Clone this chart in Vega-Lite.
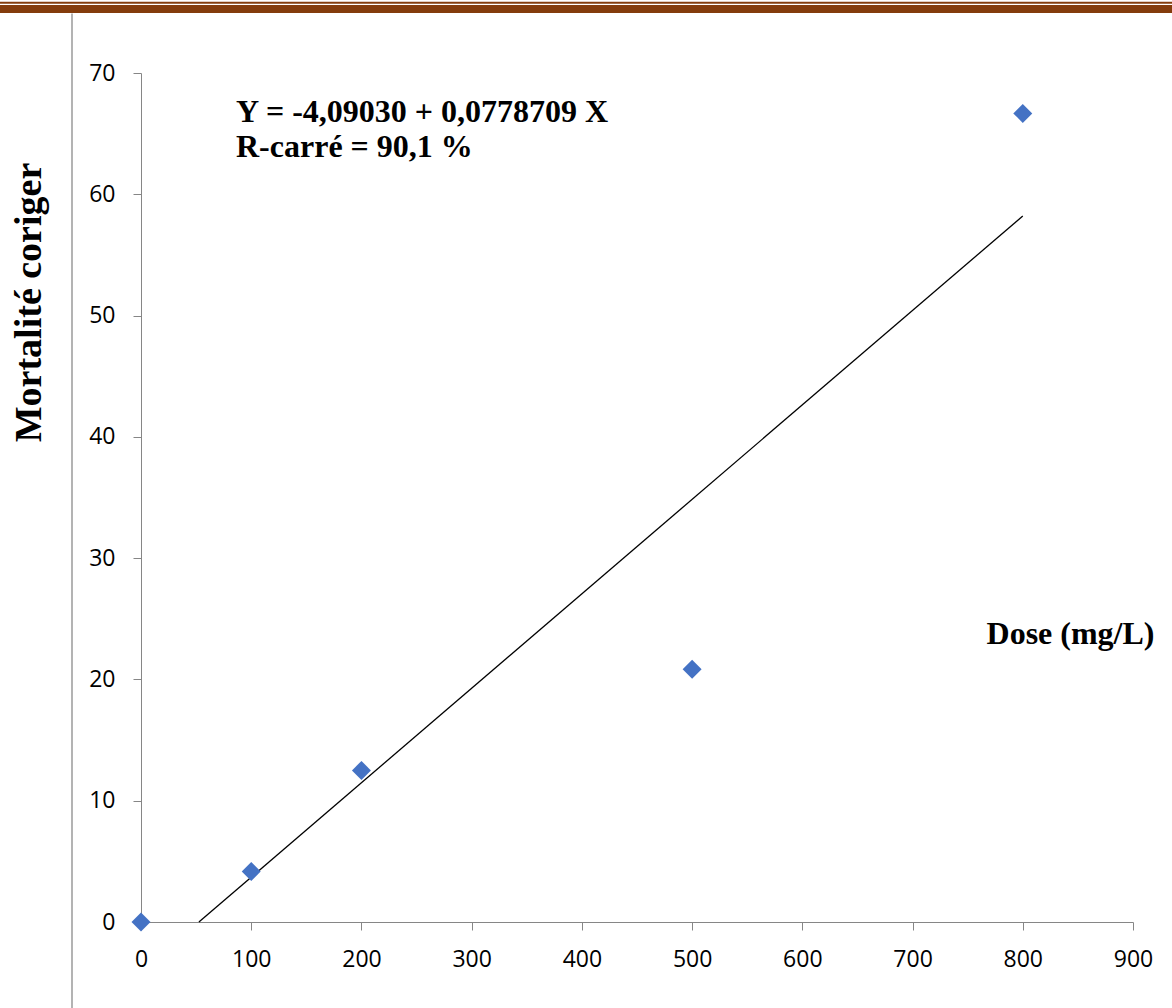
{
  "$schema": "https://vega.github.io/schema/vega-lite/v6.json",
  "width": 992,
  "height": 849,
  "autosize": {"type": "none"},
  "padding": {"left": 141, "top": 73, "right": 39, "bottom": 86},
  "background": "white",
  "config": {"view": {"stroke": null}},
  "datasets": {
    "points": [
      {"dose": 0, "mortalite": 0},
      {"dose": 100, "mortalite": 4.17},
      {"dose": 200, "mortalite": 12.5},
      {"dose": 500, "mortalite": 20.83},
      {"dose": 800, "mortalite": 66.67}
    ],
    "fit": [
      {"dose": 52.53, "mortalite": 0},
      {"dose": 800, "mortalite": 58.21}
    ],
    "notes": [
      {"dose": 86.2, "mortalite": 66.0, "label": "Y = -4,09030 + 0,0778709 X"},
      {"dose": 86.2, "mortalite": 63.05, "label": "R-carré = 90,1 %"}
    ],
    "bandThin": [{"x1": -128, "x2": 936, "y": 75.8}],
    "bandThick": [{"x1": -128, "x2": 936, "y": 75.28}],
    "border": [{"x": -62.6, "y1": 74.9, "y2": -7.2}]
  },
  "layer": [
    {
      "data": {"name": "bandThin"},
      "mark": {"type": "rule", "color": "#843C0C", "strokeWidth": 2},
      "encoding": {
        "x": {"field": "x1", "type": "quantitative", "scale": {"domain": [0, 900], "nice": false, "zero": false}},
        "x2": {"field": "x2"},
        "y": {"field": "y", "type": "quantitative", "scale": {"domain": [0, 70], "nice": false, "zero": false}}
      }
    },
    {
      "data": {"name": "bandThick"},
      "mark": {"type": "rule", "color": "#843C0C", "strokeWidth": 8},
      "encoding": {
        "x": {"field": "x1", "type": "quantitative"},
        "x2": {"field": "x2"},
        "y": {"field": "y", "type": "quantitative"}
      }
    },
    {
      "data": {"name": "border"},
      "mark": {"type": "rule", "color": "#9a9a9a", "strokeWidth": 1.5},
      "encoding": {
        "x": {"field": "x", "type": "quantitative"},
        "y": {"field": "y1", "type": "quantitative"},
        "y2": {"field": "y2"}
      }
    },
    {
      "data": {"name": "fit"},
      "mark": {"type": "line", "color": "black", "strokeWidth": 1.3},
      "encoding": {
        "x": {"field": "dose", "type": "quantitative"},
        "y": {"field": "mortalite", "type": "quantitative"}
      }
    },
    {
      "data": {"name": "points"},
      "mark": {"type": "point", "shape": "diamond", "filled": true, "color": "#4472C4", "opacity": 1, "size": 360},
      "encoding": {
        "x": {
          "field": "dose", "type": "quantitative",
          "axis": {
            "values": [0, 100, 200, 300, 400, 500, 600, 700, 800, 900],
            "grid": false, "labelFlush": false, "labelOverlap": false,
            "domainColor": "#868686", "tickColor": "#868686", "tickSize": 8,
            "labelFont": "Open Sans", "labelFontSize": 23, "labelColor": "black", "labelPadding": 18,
            "title": "Dose (mg/L)",
            "titleFont": "Liberation Serif", "titleFontSize": 32, "titleFontWeight": "bold", "titleColor": "black",
            "titleX": 929, "titleY": -279, "titleAlign": "center", "titleBaseline": "alphabetic", "titleAnchor": null
          }
        },
        "y": {
          "field": "mortalite", "type": "quantitative",
          "axis": {
            "values": [0, 10, 20, 30, 40, 50, 60, 70],
            "grid": false, "labelFlush": false, "labelOverlap": false,
            "domainColor": "#868686", "tickColor": "#868686", "tickSize": 8,
            "labelFont": "Open Sans", "labelFontSize": 23, "labelColor": "black", "labelPadding": 18,
            "title": "Mortalité coriger",
            "titleFont": "Liberation Serif", "titleFontSize": 38, "titleFontWeight": "bold", "titleColor": "black",
            "titleX": -101, "titleY": 229, "titleAngle": -90, "titleAlign": "center", "titleBaseline": "alphabetic"
          }
        }
      }
    },
    {
      "data": {"name": "notes"},
      "mark": {"type": "text", "align": "left", "baseline": "alphabetic", "font": "Liberation Serif", "fontSize": 32, "fontWeight": "bold", "color": "black"},
      "encoding": {
        "x": {"field": "dose", "type": "quantitative"},
        "y": {"field": "mortalite", "type": "quantitative"},
        "text": {"field": "label"}
      }
    }
  ]
}
